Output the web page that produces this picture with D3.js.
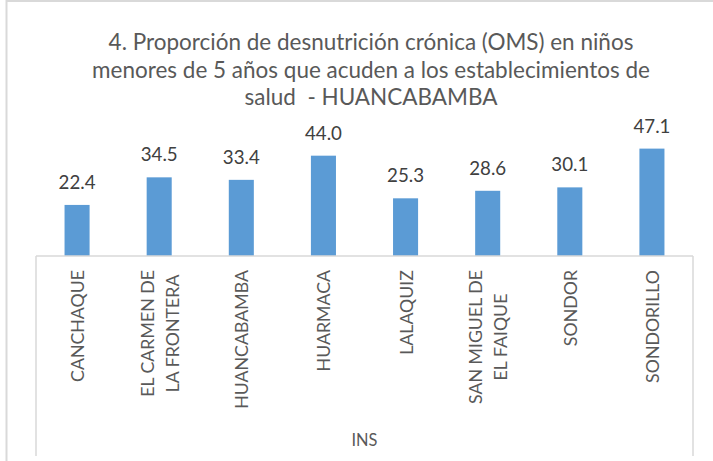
<!DOCTYPE html>
<html>
<head>
<meta charset="utf-8">
<script src="https://cdn.jsdelivr.net/npm/d3@7"></script>
<style>
  body { margin: 0; background: #fff; }
  svg { display: block; }
</style>
</head>
<body>
<div id="chart"></div>
<script>
// data
var categories = [
  ["CANCHAQUE"],
  ["EL CARMEN DE", "LA FRONTERA"],
  ["HUANCABAMBA"],
  ["HUARMACA"],
  ["LALAQUIZ"],
  ["SAN MIGUEL DE", "EL FAIQUE"],
  ["SONDOR"],
  ["SONDORILLO"]
]
var values = [22.4, 34.5, 33.4, 44.0, 25.3, 28.6, 30.1, 47.1]
var groupLabel = "INS"
var titleLines = [
  "4. Proporción de desnutrición crónica (OMS) en niños",
  "menores de 5 años que acuden a los establecimientos de",
  "salud  - HUANCABAMBA"
]

var W = 713, H = 461
var font = "Lato, sans-serif"
var plotLeft = 36, plotRight = 693, plotBase = 256, plotTop = 142, bottomLine = 456

var svg = d3.select("#chart").append("svg")
            .attr("width", W)
            .attr("height", H)

// font size that gives a text the wanted width (Calibri is narrow)
function fitSize(str, wanted) {
  var t = svg.append("text")
             .attr("font-family", font)
             .attr("font-size", "20px")
             .attr("xml:space", "preserve")
             .text(str)
  var w = t.node().getComputedTextLength()
  t.remove()
  return 20 * wanted / w
}
var titleSize = fitSize(titleLines[0], 525)
var catSize = fitSize("CANCHAQUE", 112)
var valSize = fitSize("22.4", 37)
var insSize = fitSize("INS", 26)

// chart border (left + top only visible)
svg.append("rect")
   .attr("x", 6.5)
   .attr("y", 1)
   .attr("width", W + 20)
   .attr("height", H + 20)
   .attr("fill", "#fff")
   .attr("stroke", "#d9d9d9")
   .attr("stroke-width", 2)

var keys = categories.map(function(c, i) { return i })

var x = d3.scaleBand()
          .domain(keys)
          .range([plotLeft, plotRight])
          .paddingInner(0.695)
          .paddingOuter(0.3475)

var y = d3.scaleLinear()
          .domain([0, 50])
          .range([plotBase, plotTop])

// title
svg.append("g").selectAll("text")
   .data(titleLines)
   .join("text")
   .attr("x", 371)
   .attr("y", function(d, i) { return 50 + i * 27.5 })
   .attr("text-anchor", "middle")
   .attr("xml:space", "preserve")
   .attr("font-family", font)
   .attr("font-size", titleSize + "px")
   .attr("fill", "#595959")
   .text(function(d) { return d })

// bars
svg.append("g").selectAll("rect")
   .data(values)
   .join("rect")
   .attr("x", function(d, i) { return x(i) })
   .attr("y", function(d) { return y(d) })
   .attr("width", x.bandwidth())
   .attr("height", function(d) { return y(0) - y(d) })
   .attr("fill", "#5b9bd5")

// value labels
svg.append("g").selectAll("text")
   .data(values)
   .join("text")
   .attr("x", function(d, i) { return x(i) + x.bandwidth() / 2 })
   .attr("y", function(d) { return y(d) - 16 })
   .attr("text-anchor", "middle")
   .attr("font-family", font)
   .attr("font-size", valSize + "px")
   .attr("fill", "#404040")
   .text(function(d) { return d.toFixed(1) })

// axis lines
var axis = svg.append("g")
              .attr("stroke", "#d9d9d9")
              .attr("stroke-width", 1.5)
axis.append("line")
    .attr("x1", plotLeft).attr("x2", plotRight)
    .attr("y1", plotBase).attr("y2", plotBase)
axis.append("line")
    .attr("x1", plotLeft).attr("x2", plotLeft)
    .attr("y1", plotBase).attr("y2", bottomLine)
axis.append("line")
    .attr("x1", plotRight).attr("x2", plotRight)
    .attr("y1", plotBase).attr("y2", bottomLine)

// category labels, rotated, top anchored
var labelTop = 270
var catG = svg.append("g").selectAll("g")
              .data(categories)
              .join("g")
              .attr("transform", function(d, i) {
                return "translate(" + (x(i) + x.bandwidth() / 2) + "," + labelTop + ") rotate(-90)"
              })

catG.each(function(lines) {
  var g = d3.select(this)
  var texts = g.selectAll("text")
               .data(lines)
               .join("text")
               .attr("font-family", font)
               .attr("font-size", catSize + "px")
               .attr("fill", "#595959")
               .text(function(d) { return d })
  var maxW = 0
  texts.each(function() { maxW = Math.max(maxW, this.getComputedTextLength()) })
  var n = lines.length
  texts.attr("text-anchor", "middle")
       .attr("x", -maxW / 2)
       .attr("y", function(d, i) { return (i - (n - 1) / 2) * 25 + 7 })
})

// group label
svg.append("text")
   .attr("x", (plotLeft + plotRight) / 2)
   .attr("y", 446)
   .attr("text-anchor", "middle")
   .attr("font-family", font)
   .attr("font-size", insSize + "px")
   .attr("fill", "#595959")
   .text(groupLabel)
</script>
</body>
</html>
